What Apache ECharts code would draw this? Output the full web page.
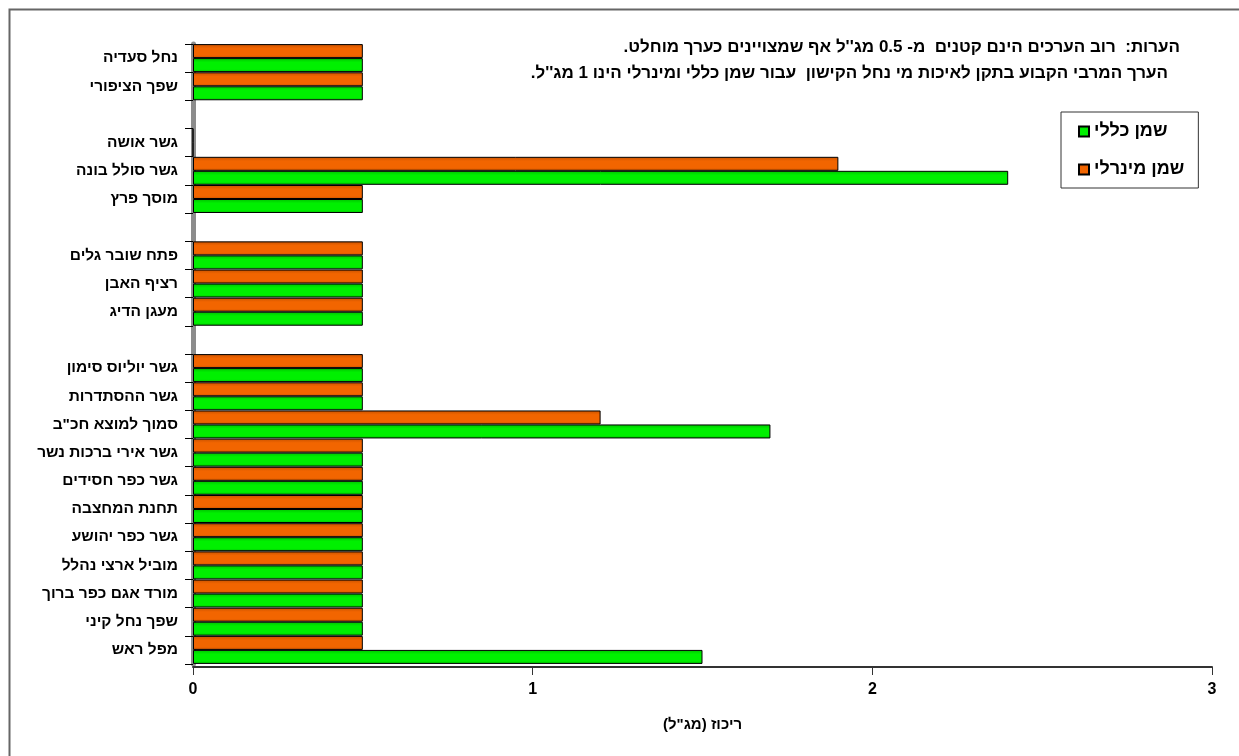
<!DOCTYPE html>
<html>
<head>
<meta charset="utf-8">
<script src="https://cdn.jsdelivr.net/npm/echarts@6/dist/echarts.min.js"></script>
<style>
html,body{margin:0;padding:0;background:#fff;}
#chart{width:1239px;height:756px;}
</style>
</head>
<body>
<div id="chart" dir="rtl"></div>
<script>
var categories = ["נחל סעדיה","שפך הציפורי"," ","גשר אושה","גשר סולל בונה","מוסך פרץ","  ","פתח שובר גלים","רציף האבן","מעגן הדיג","   ","גשר יוליוס סימון","גשר ההסתדרות","סמוך למוצא חכ\"ב","גשר אירי ברכות נשר","גשר כפר חסידים","תחנת המחצבה","גשר כפר יהושע","מוביל ארצי נהלל","מורד אגם כפר ברוך","שפך נחל קיני","מפל ראש"];
var generalOil = [0.5,0.5,null,0,2.4,0.5,null,0.5,0.5,0.5,null,0.5,0.5,1.7,0.5,0.5,0.5,0.5,0.5,0.5,0.5,1.5];
var mineralOil = [0.5,0.5,null,0,1.9,0.5,null,0.5,0.5,0.5,null,0.5,0.5,1.2,0.5,0.5,0.5,0.5,0.5,0.5,0.5,0.5];
var seriesNames = ["שמן כללי","שמן מינרלי"];
var xTicks = [0,1,2,3];
var noteLines = ["הערות:  רוב הערכים הינם קטנים  מ- 0.5 מג''ל אף שמצויינים כערך מוחלט.","הערך המרבי הקבוע בתקן לאיכות מי נחל הקישון  עבור שמן כללי ומינרלי הינו 1 מג''ל."];
var axisName = "ריכוז (מג\"ל)";

var FONT = '"Liberation Sans", Arial, "DejaVu Sans", sans-serif';
var chart = echarts.init(document.getElementById('chart'), null, {renderer:'canvas'});
function grad(c0,c1){
  return new echarts.graphic.LinearGradient(0,0,0,1,[
    {offset:0,color:c0},{offset:0.3,color:c1},{offset:0.8,color:c1},{offset:1,color:c0}]);
}
chart.setOption({
  animation:false,
  backgroundColor:'#fff',
  grid:{left:193,right:27,top:44,bottom:92,containLabel:false},
  legend:{
    orient:'vertical',left:1061,top:112,
    data:[seriesNames[0],seriesNames[1]],
    backgroundColor:'#fff',borderColor:'#333',borderWidth:1,
    padding:[9,14,8,17],itemGap:17,itemWidth:10,itemHeight:10,
    icon:'rect',
    textStyle:{fontFamily:FONT,fontSize:18,fontWeight:'bold',color:'#000',lineHeight:21}
  },
  xAxis:{
    type:'value',min:xTicks[0],max:xTicks[xTicks.length-1],interval:1,offset:3,
    axisLine:{show:true,lineStyle:{color:'#333',width:2}},
    axisTick:{show:true,length:8,lineStyle:{color:'#333',width:1}},
    axisLabel:{margin:15,fontFamily:FONT,fontSize:16,fontWeight:'bold',color:'#000'},
    splitLine:{show:false},
    name:axisName,nameLocation:'middle',nameGap:50,
    nameTextStyle:{fontFamily:FONT,fontSize:15,fontWeight:'bold',color:'#000'}
  },
  yAxis:{
    type:'category',inverse:true,data:categories,
    axisLine:{show:true,lineStyle:{color:'#8c8c8c',width:5}},
    axisTick:{show:true,length:8,interval:0,lineStyle:{color:'#000',width:1}},
    axisLabel:{interval:0,margin:15,fontFamily:FONT,fontSize:15.5,fontWeight:'bold',color:'#000'}
  },
  series:[
    {name:seriesNames[1],type:'bar',data:mineralOil,barWidth:14,barGap:'0%',
     itemStyle:{color:grad('#c85200','#f26500'),borderColor:'#000',borderWidth:1}},
    {name:seriesNames[0],type:'bar',data:generalOil,barWidth:14,barGap:'0%',
     itemStyle:{color:grad('#00c000','#00f000'),borderColor:'#000',borderWidth:1}}
  ],
  graphic:[
    {type:'rect',left:7,top:7,shape:{width:1300,height:800},silent:true,z:-10,
     style:{fill:null,stroke:'#666',lineWidth:2}},
    {type:'text',x:1180,y:47,style:{text:noteLines[0],align:'right',verticalAlign:'middle',font:'bold 17px '+FONT,fill:'#000'}},
    {type:'text',x:1168,y:73,style:{text:noteLines[1],align:'right',verticalAlign:'middle',font:'bold 17px '+FONT,fill:'#000'}}
  ]
});
</script>
</body>
</html>
